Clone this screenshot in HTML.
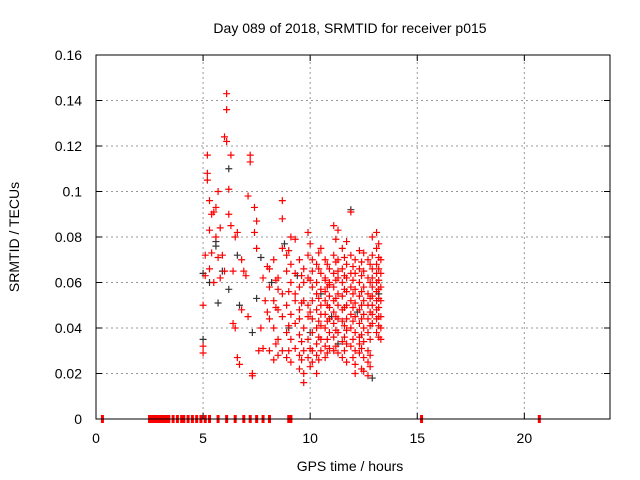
<!DOCTYPE html>
<html><head><meta charset="utf-8"><style>
body{margin:0;background:#fff}
svg{display:block;font-family:"Liberation Sans",sans-serif}
</style></head><body>
<svg id="chart" width="640" height="480">
<text x="350" y="33" text-anchor="middle" font-size="14">Day 089 of 2018, SRMTID for receiver p015</text>
<text x="350" y="471" text-anchor="middle" font-size="14">GPS time / hours</text>
<text transform="translate(19,237) rotate(-90)" text-anchor="middle" font-size="14">SRMTID / TECUs</text>
<g id="grid"></g><g id="ticks"></g><g id="marks"></g>
<rect x="96" y="55" width="514" height="364" fill="none" stroke="#000"/>
</svg>
<script>
const xTicks=[0,5,10,15,20];
const yTicks=[0,0.02,0.04,0.06,0.08,0.1,0.12,0.14,0.16];
const yTickLabels=["0","0.02","0.04","0.06","0.08","0.1","0.12","0.14","0.16"];
const zeroTimes=[0.3,2.5,2.6,2.7,2.8,2.9,3.0,3.1,3.2,3.3,3.4,3.6,3.8,4.0,4.1,4.3,4.5,4.7,4.9,5.1,5.3,5.7,6.1,6.5,6.9,7.2,7.5,7.8,8.1,9.0,9.1,15.2,20.7];
const redSeries=[
[5.0,.032],[5.0,.029],[5.0,.050],[5.1,.072],[5.1,.063],[5.2,.116],[5.2,.108],[5.2,.105],[5.3,.096],[5.3,.083],[5.3,.066],[5.4,.090],[5.4,.073],[5.5,.091],[5.5,.060],[5.6,.093],[5.6,.080],[5.7,.100],[5.7,.071],[5.8,.084],[5.8,.062],[5.9,.072],[6.0,.124],[6.0,.065],[6.1,.143],[6.1,.136],[6.1,.122],[6.2,.101],[6.2,.090],[6.3,.116],[6.3,.085],[6.4,.065],[6.4,.042],[6.5,.080],[6.5,.040],[6.6,.027],[6.6,.082],[6.7,.024],[6.8,.070],[6.8,.048],[6.9,.065],[7.0,.063],[7.1,.098],[7.1,.045],[7.2,.116],[7.2,.113],[7.3,.020],[7.3,.019],[7.4,.093],[7.4,.082],[7.5,.075],[7.5,.087],[7.6,.030],[7.7,.040],[7.8,.031],[7.8,.062],[7.9,.052],[8.0,.067],[8.0,.047],
[8.1,.066],[8.1,.058],[8.1,.044],[8.1,.030],[8.3,.070],[8.3,.052],[8.3,.040],[8.3,.026],[8.5,.062],[8.5,.048],[8.5,.035],[8.5,.028],[8.5,.057],
[8.7,.096],[8.7,.088],[8.7,.075],[8.7,.055],[8.7,.045],[8.7,.030],[8.9,.065],[8.9,.050],[8.9,.038],[8.9,.027],[8.9,.072],
[9.1,.080],[9.1,.068],[9.1,.060],[9.1,.046],[9.1,.035],[9.1,.025],[9.3,.079],[9.3,.064],[9.3,.052],[9.3,.042],[9.3,.031],[9.3,.055],
[9.5,.070],[9.5,.058],[9.5,.048],[9.5,.037],[9.5,.028],[9.5,.022],[9.5,.044],[9.7,.066],[9.7,.052],[9.7,.040],[9.7,.030],[9.7,.020],[9.7,.016],[9.7,.060],
[9.9,.082],[9.9,.072],[9.9,.062],[9.9,.050],[9.9,.045],[9.9,.035],[9.9,.027],
[10.1,.065],[10.1,.058],[10.1,.052],[10.1,.044],[10.1,.038],[10.1,.030],[10.1,.025],[10.1,.070],
[10.3,.068],[10.3,.060],[10.3,.055],[10.3,.048],[10.3,.040],[10.3,.033],[10.3,.028],[10.3,.020],
[10.5,.075],[10.5,.064],[10.5,.057],[10.5,.050],[10.5,.046],[10.5,.041],[10.5,.035],[10.5,.030],
[10.7,.070],[10.7,.062],[10.7,.056],[10.7,.052],[10.7,.046],[10.7,.040],[10.7,.032],[10.7,.027],[10.7,.061],
[10.9,.066],[10.9,.059],[10.9,.054],[10.9,.049],[10.9,.044],[10.9,.038],[10.9,.031],[10.9,.060],
[11.1,.085],[11.1,.072],[11.1,.064],[11.1,.058],[11.1,.052],[11.1,.047],[11.1,.042],[11.1,.036],[11.1,.030],
[11.3,.083],[11.3,.070],[11.3,.062],[11.3,.055],[11.3,.050],[11.3,.044],[11.3,.038],[11.3,.029],[11.3,.065],
[11.5,.075],[11.5,.066],[11.5,.060],[11.5,.054],[11.5,.048],[11.5,.043],[11.5,.034],[11.5,.027],
[11.7,.078],[11.7,.068],[11.7,.062],[11.7,.056],[11.7,.050],[11.7,.044],[11.7,.039],[11.7,.033],[11.7,.025],
[11.9,.091],[11.9,.072],[11.9,.064],[11.9,.058],[11.9,.052],[11.9,.046],[11.9,.040],[11.9,.032],
[12.1,.070],[12.1,.064],[12.1,.057],[12.1,.051],[12.1,.045],[12.1,.038],[12.1,.030],[12.1,.024],[12.1,.020],
[12.3,.074],[12.3,.066],[12.3,.060],[12.3,.054],[12.3,.048],[12.3,.042],[12.3,.036],[12.3,.029],[12.3,.033],
[12.5,.073],[12.5,.065],[12.5,.058],[12.5,.052],[12.5,.046],[12.5,.040],[12.5,.034],[12.5,.027],[12.5,.021],
[12.7,.070],[12.7,.062],[12.7,.055],[12.7,.050],[12.7,.044],[12.7,.038],[12.7,.030],[12.7,.025],[12.7,.019],
[12.9,.080],[12.9,.072],[12.9,.066],[12.9,.062],[12.9,.058],[12.9,.054],[12.9,.050],[12.9,.046],[12.9,.042],
[13.1,.082],[13.1,.075],[13.1,.068],[13.1,.064],[13.1,.060],[13.1,.056],[13.1,.052],[13.1,.048],[13.1,.044],[13.1,.038],
[13.3,.070],[13.3,.064],[13.3,.058],[13.3,.052],[13.3,.045],[13.3,.035],[13.3,.040],
[8.4,.061],[8.4,.049],[8.4,.033],[9.0,.074],[9.0,.056],[9.0,.041],[9.0,.030],[9.6,.063],[9.6,.051],[9.6,.034],[9.6,.026],
[10.0,.077],[10.0,.061],[10.0,.047],[10.0,.031],[10.0,.023],[10.4,.073],[10.4,.066],[10.4,.053],[10.4,.043],[10.4,.036],[10.4,.026],
[10.8,.068],[10.8,.058],[10.8,.050],[10.8,.043],[10.8,.035],[10.8,.029],[11.2,.079],[11.2,.069],[11.2,.061],[11.2,.053],[11.2,.045],[11.2,.039],[11.2,.032],
[11.6,.071],[11.6,.063],[11.6,.057],[11.6,.049],[11.6,.041],[11.6,.036],[11.6,.030],[12.0,.067],[12.0,.061],[12.0,.055],[12.0,.049],[12.0,.043],[12.0,.035],[12.0,.027],
[12.4,.069],[12.4,.063],[12.4,.056],[12.4,.050],[12.4,.044],[12.4,.037],[12.4,.031],[12.4,.022],
[12.8,.068],[12.8,.060],[12.8,.053],[12.8,.047],[12.8,.041],[12.8,.035],[12.8,.028],[12.8,.023],
[13.2,.077],[13.2,.071],[13.2,.066],[13.2,.061],[13.2,.057],[13.2,.053],[13.2,.049],[13.2,.045],[13.2,.041],[13.2,.036]];
const darkSeries=[[5.0,.064],[5.0,.035],[5.3,.060],[5.6,.078],[5.6,.076],[5.7,.051],[5.9,.065],[6.2,.110],[6.2,.057],[6.6,.072],[6.7,.050],[7.3,.038],[7.5,.053],[7.7,.071],[8.2,.060],[8.8,.077],[9.0,.040],[9.4,.063],[10.0,.038],[10.5,.055],[11.0,.045],[11.3,.033],[11.9,.092],[12.2,.047],[12.9,.018],[13.2,.055]];
const NS="http://www.w3.org/2000/svg";
const X0=96,X1=610,Y0=419,Y1=55;
const xScale=t=>X0+t/24*(X1-X0);
const yScale=v=>Y0-v/0.16*(Y0-Y1);
function mk(tag,attrs,parent){const e=document.createElementNS(NS,tag);for(const k in attrs)e.setAttribute(k,attrs[k]);parent.appendChild(e);return e;}
const grid=document.getElementById('grid'),ticks=document.getElementById('ticks'),marks=document.getElementById('marks');
xTicks.forEach(t=>{const x=xScale(t);
 if(t>0){const g=mk('line',{x1:x,x2:x,y1:Y0,y2:Y1,stroke:'#999','stroke-dasharray':'2,3'},grid);
 
 }
 const l=mk('text',{x:x,y:Y0+24,'text-anchor':'middle','font-size':14},ticks);l.textContent=t;
 
 
 mk('line',{x1:x,x2:x,y1:Y0,y2:Y0-6,stroke:'#000'},ticks);mk('line',{x1:x,x2:x,y1:Y1,y2:Y1+6,stroke:'#000'},ticks);});
yTicks.forEach((v,i)=>{const y=yScale(v);
 if(v>0&&v<0.16){const g=mk('line',{x1:X0,x2:X1,y1:y,y2:y,stroke:'#999','stroke-dasharray':'2,3'},grid);
 
 }
 const l=mk('text',{x:X0-14,y:y+5,'text-anchor':'end','font-size':14},ticks);l.textContent=yTickLabels[i];
 
 
 mk('line',{x1:X0,x2:X0+6,y1:y,y2:y,stroke:'#000'},ticks);mk('line',{x1:X1,x2:X1-6,y1:y,y2:y,stroke:'#000'},ticks);});
function plus(t,v,color,name){const x=xScale(t),y=yScale(v);
 const p=mk('path',{d:`M${x-3.5} ${y}H${x+3.5}M${x} ${y-3.5}V${y+3.5}`,stroke:color,'stroke-width':1.2,fill:'none'},marks);
 
 }
darkSeries.forEach(d=>plus(d[0],d[1],'#333','dark-point'));
redSeries.forEach(d=>plus(d[0],d[1],'#f00','red-point'));
zeroTimes.forEach(t=>{const x=xScale(t);
 const r=mk('rect',{x:x-1.5,y:Y0-4,width:3,height:8,fill:'#f00'},marks);
 
 });
</script>
</body></html>
